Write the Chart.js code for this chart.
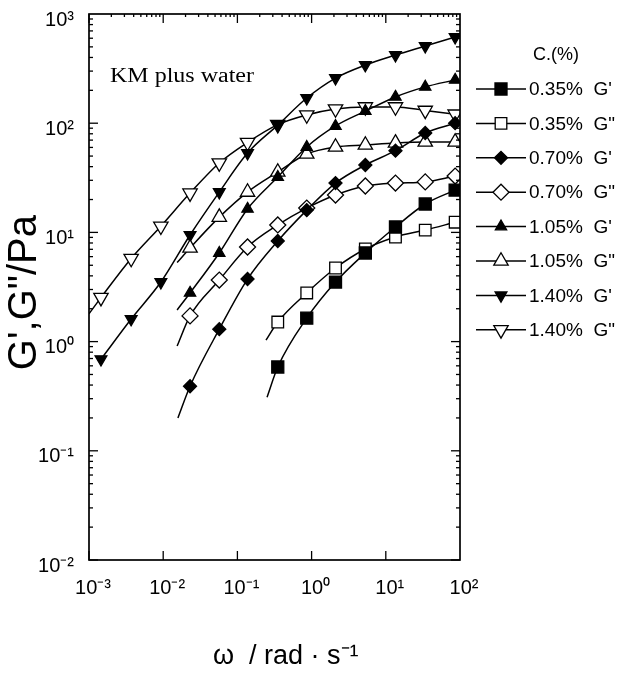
<!DOCTYPE html>
<html><head><meta charset="utf-8">
<script src="https://cdn.jsdelivr.net/npm/chart.js@4.4.1/dist/chart.umd.min.js"></script>
<style>html,body{margin:0;padding:0;background:#fff;}canvas{display:block;}</style>
</head><body>
<canvas id="c" width="625" height="688"></canvas>
<script>
// ---- data ----
const omega = [0.00145, 0.0037, 0.0093, 0.023, 0.057, 0.137, 0.35, 0.86, 2.1, 5.3, 13.5, 34, 86];
const g035p  = [null,null,null,null,null,null, 0.585, 1.64, 3.51, 6.48, 11.2, 18.2, 24.4];
const g035pp = [null,null,null,null,null,null, 1.51, 2.79, 4.72, 7.05, 9.08, 10.5, 12.4];
const g070p  = [null,null,null, 0.39, 1.30, 3.74, 8.34, 16.0, 28.3, 41.4, 56, 81.3, 100];
const g070pp = [null,null,null, 1.72, 3.66, 7.35, 11.7, 16.7, 22.0, 26.6, 28.3, 29.0, 32.8];
const g105p  = [null,null,null, 2.79, 6.48, 16.4, 32.1, 60.5, 94.3, 129, 174, 215, 249];
const g105pp = [null,null,null, 7.2, 13.8, 23.4, 35.7, 52.2, 60.5, 63.1, 65.9, 67.3, 67.3];
const g140p  = [0.69, 1.61, 3.51, 9.47, 23.4, 53.3, 96, 170, 259, 341, 421, 509, 615];
const g140pp = [2.53, 5.77, 11.4, 22.9, 43.2, 66.6, 97, 119, 135, 141, 141, 131, 121];
// start of each fitted line (below/left of first marker), series order as in legend
const startOmega = [0.251, 0.243, 0.0158, 0.0154, 0.0154, 0.0154, null, 0.001];
const startG     = [0.31, 1.03, 0.20, 0.91, 1.95, 5.3, null, 1.8];
const seriesLabels = ["0.35%  G'", '0.35%  G"', "0.70%  G'", '0.70%  G"', "1.05%  G'", '1.05%  G"', "1.40%  G'", '1.40%  G"'];
const xTicks = [1e-3, 1e-2, 1e-1, 1e0, 1e1, 1e2];
const yTicks = [1e-2, 1e-1, 1e0, 1e1, 1e2, 1e3];
const legendTitle = 'C.(%)';
const noteText = 'KM plus water';

const seriesValues = [g035p, g035pp, g070p, g070pp, g105p, g105pp, g140p, g140pp];
const styles = [
  {ps:'rect', rot:0, r:8.5, fill:'#000'},
  {ps:'rect', rot:0, r:8.2, fill:'#fff'},
  {ps:'rectRot', rot:0, r:6.5, fill:'#000'},
  {ps:'rectRot', rot:0, r:8, fill:'#fff'},
  {ps:'triangle', rot:0, r:6.5, fill:'#000'},
  {ps:'triangle', rot:0, r:8.3, fill:'#fff'},
  {ps:'triangle', rot:180, r:6.8, fill:'#000'},
  {ps:'triangle', rot:180, r:8.3, fill:'#fff'}
];

const sup = {'-':'\u207B','0':'\u2070','1':'\u00B9','2':'\u00B2','3':'\u00B3'};
function decLabel(v){ const e = Math.round(Math.log10(v)); return '10' + String(e).split('').map(c=>sup[c]).join(''); }

const datasets = seriesValues.map((vals, i) => {
  const pts = [], radii = [];
  if (startOmega[i] !== null) { pts.push({x:startOmega[i], y:startG[i]}); radii.push(0); }
  vals.forEach((v, j) => { if (v !== null) { pts.push({x:omega[j], y:v}); radii.push(styles[i].r); } });
  return {
    label: seriesLabels[i], data: pts,
    borderColor:'#000', borderWidth:1.5,
    pointStyle: styles[i].ps, pointRotation: styles[i].rot,
    pointRadius: radii, pointBackgroundColor: styles[i].fill,
    pointBorderColor:'#000', pointBorderWidth:1.3,
    cubicInterpolationMode:'monotone', fill:false
  };
});
const FONT = '"Liberation Sans", Arial, Helvetica, sans-serif';

function marker(ctx, st, x, y){
  ctx.beginPath();
  const r = st.r;
  if (st.ps === 'rect') { const s = Math.SQRT1_2*r; ctx.rect(x-s, y-s, 2*s, 2*s); }
  else if (st.ps === 'rectRot') { ctx.moveTo(x-r,y); ctx.lineTo(x,y-r); ctx.lineTo(x+r,y); ctx.lineTo(x,y+r); ctx.closePath(); }
  else { let rad = st.rot*Math.PI/180; ctx.moveTo(x+Math.sin(rad)*r, y-Math.cos(rad)*r); rad += 2*Math.PI/3;
    ctx.lineTo(x+Math.sin(rad)*r, y-Math.cos(rad)*r); rad += 2*Math.PI/3; ctx.lineTo(x+Math.sin(rad)*r, y-Math.cos(rad)*r); ctx.closePath(); }
  ctx.fillStyle = st.fill; ctx.fill(); ctx.lineWidth = 1.3; ctx.strokeStyle = '#000'; ctx.stroke();
}

const framePlugin = {
  id:'frame',
  afterDraw(chart){
    const {ctx, chartArea:a, scales:{x, y}} = chart;
    ctx.save();
    ctx.strokeStyle = '#000';
    ctx.lineWidth = 1.7;
    ctx.strokeRect(a.left, a.top, a.right-a.left, a.bottom-a.top);
    const ln = (x1,y1,x2,y2)=>{ctx.beginPath();ctx.moveTo(x1,y1);ctx.lineTo(x2,y2);ctx.stroke();};
    ctx.lineWidth = 1.3;
    for (let d=-3; d<2; d++) for (let k=1; k<=9; k++) {
      const v = k*Math.pow(10,d); const px = x.getPixelForValue(v);
      if (k===1) { ln(px,a.bottom,px,a.bottom-9); ln(px,a.top,px,a.top+9); }
      else { ln(px,a.top,px,a.top+3); }
    }
    for (let d=-2; d<3; d++) for (let k=1; k<=9; k++) {
      const v = k*Math.pow(10,d); const py = y.getPixelForValue(v);
      const L = k===1 ? 9 : 4;
      ln(a.left,py,a.left+L,py); ln(a.right,py,a.right-L,py);
    }
    // annotation
    ctx.fillStyle = '#000';
    ctx.save();
    ctx.translate(a.left+21, a.top+68);
    ctx.scale(1.2, 1);
    ctx.font = '20px "Liberation Serif", "Times New Roman", serif';
    ctx.textBaseline = 'alphabetic'; ctx.textAlign = 'left';
    ctx.fillText(noteText, 0, 0);
    ctx.restore();
    // legend
    ctx.font = '18px ' + FONT;
    ctx.textBaseline = 'middle'; ctx.textAlign = 'left';
    ctx.fillText(legendTitle, a.right+73, a.top+41);
    ctx.font = '19px ' + FONT;
    seriesLabels.forEach((lab, i) => {
      const yy = a.top + 75 + i*34.4;
      ctx.lineWidth = 1.5; ctx.strokeStyle = '#000';
      ln(a.right+16, yy, a.right+66, yy);
      marker(ctx, styles[i], a.right+41, yy);
      ctx.fillStyle = '#000';
      ctx.fillText(lab, a.right+69, yy+1);
    });
    ctx.restore();
  }
};

new Chart(document.getElementById('c'), {
  type:'line',
  data:{ datasets },
  options:{
    responsive:false, animation:false, devicePixelRatio:1,
    layout:{ padding:{ left:0, right:165, top:14, bottom:0 } },
    plugins:{ legend:{display:false}, tooltip:{enabled:false} },
    scales:{
      x:{
        type:'logarithmic', min:1e-3, max:1e2,
        afterBuildTicks: s => { s.ticks = xTicks.map(v=>({value:v})); },
        afterFit: s => { s.height = 128; s.paddingLeft = 0; s.paddingRight = 0; },
        ticks:{ callback: v => decLabel(v), color:'#000', font:{family:FONT, size:20}, padding:16, labelOffset:4, maxRotation:0, autoSkip:false },
        grid:{ display:false, drawTicks:false }, border:{ display:false },
        title:{ display:true, text:'   \u03C9  / rad \u00B7 s\u207B\u00B9', color:'#000', font:{family:FONT, size:27}, padding:{top:0, bottom:15} }
      },
      y:{
        type:'logarithmic', min:1e-2, max:1e3,
        afterBuildTicks: s => { s.ticks = yTicks.map(v=>({value:v})); },
        afterFit: s => { s.width = 89; s.paddingTop = 0; s.paddingBottom = 0; },
        ticks:{ callback: v => decLabel(v), color:'#000', font:{family:FONT, size:20}, padding:15, labelOffset:6, autoSkip:false },
        grid:{ display:false, drawTicks:false }, border:{ display:false },
        title:{ display:true, text:'G\',G"/Pa ', color:'#000', font:{family:FONT, size:40}, padding:{top:1, bottom:0} }
      }
    }
  },
  plugins:[framePlugin]
});
</script></body></html>
